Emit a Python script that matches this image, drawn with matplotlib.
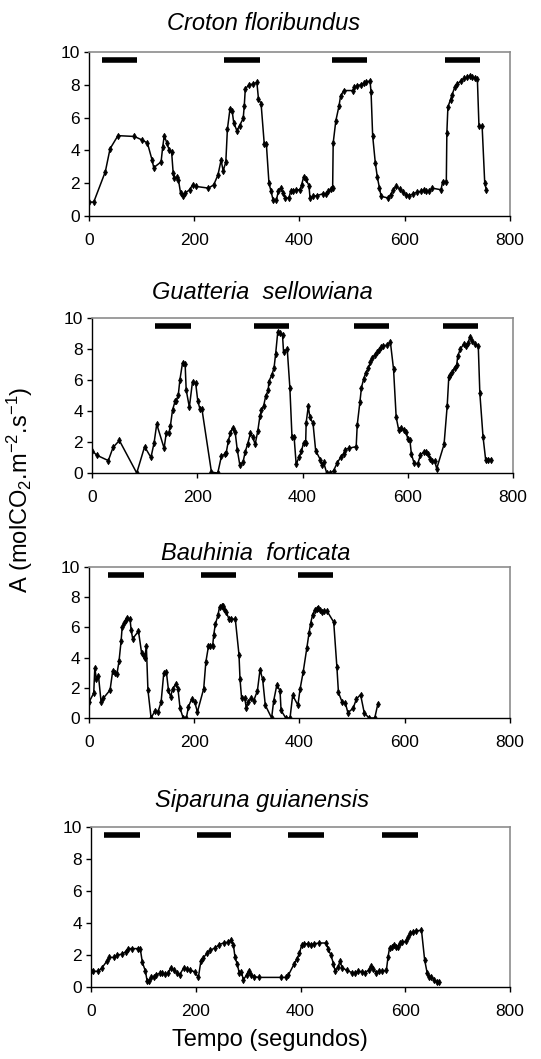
import matplotlib
matplotlib.use("Agg")
import matplotlib.pyplot as plt

plt.rcParams['font.family'] = ['Liberation Sans', 'DejaVu Sans']
plt.rcParams['mathtext.fontset'] = 'custom'
plt.rcParams['mathtext.rm'] = 'Liberation Sans'
plt.rcParams['mathtext.it'] = 'Liberation Sans:italic'
plt.rcParams['mathtext.default'] = 'regular'

# species names (panel titles)
titles = ["Croton floribundus", "Guatteria  sellowiana",
          "Bauhinia  forticata", "Siparuna guianensis"]

# Croton floribundus
t1 = [0, 9, 31, 40, 55, 86, 100, 111, 120, 123, 137, 140, 143, 148, 152, 157, 160, 162, 167, 170,
      174, 178, 183, 191, 197, 204, 227, 237, 245, 251, 255, 260, 263, 268, 272, 275, 281, 286, 293, 295,
      297, 304, 312, 319, 322, 327, 333, 337, 342, 346, 350, 356, 360, 364, 369, 373, 380, 383, 387, 394,
      401, 404, 408, 412, 418, 420, 426, 434, 444, 451, 455, 459, 463, 464, 469, 475, 478, 484, 501, 504,
      510, 516, 522, 527, 534, 536, 539, 544, 548, 552, 555, 568, 573, 578, 583, 591, 597, 602, 609, 616,
      623, 630, 636, 641, 647, 652, 669, 672, 679, 680, 682, 687, 690, 695, 700, 707, 713, 719, 724, 727,
      733, 738, 741, 747, 752, 755]
a1 = [0.85, 0.85, 2.7, 4.1, 4.9, 4.85, 4.65, 4.45, 3.4, 2.95, 3.3, 4.2, 4.9, 4.45, 4.05, 3.9, 2.6, 2.3, 2.35, 2.2,
      1.4, 1.2, 1.4, 1.6, 1.9, 1.8, 1.7, 1.9, 2.5, 3.4, 2.75, 3.3, 5.3, 6.55, 6.4, 5.7, 5.2, 5.5, 5.95, 6.7,
      7.75, 8.0, 8.05, 8.15, 7.15, 6.85, 4.4, 4.4, 2.0, 1.5, 0.95, 0.95, 1.55, 1.7, 1.4, 1.1, 1.1, 1.5, 1.55, 1.6,
      1.6, 1.9, 2.4, 2.25, 1.85, 1.1, 1.2, 1.25, 1.35, 1.35, 1.5, 1.65, 1.7, 4.45, 5.8, 6.7, 7.3, 7.65, 7.65, 7.85,
      7.95, 8.0, 8.1, 8.15, 8.25, 7.55, 4.9, 3.25, 2.35, 1.7, 1.2, 1.1, 1.3, 1.6, 1.8, 1.65, 1.45, 1.3, 1.25, 1.35,
      1.45, 1.5, 1.6, 1.5, 1.5, 1.7, 1.6, 2.1, 2.1, 5.05, 6.65, 7.1, 7.4, 7.85, 8.05, 8.25, 8.4, 8.45, 8.55, 8.5,
      8.4, 8.35, 5.5, 5.5, 2.0, 1.6]

# Guatteria sellowiana
t2 = [0, 9, 31, 40, 52, 85, 100, 112, 118, 123, 137, 141, 146, 149, 153, 158, 160, 164, 167, 172,
      177, 179, 185, 191, 197, 201, 205, 209, 227, 239, 246, 252, 255, 259, 263, 267, 272, 276, 281, 287,
      291, 296, 301, 305, 310, 315, 319, 322, 326, 330, 335, 336, 342, 346, 349, 353, 357, 362, 364, 371,
      376, 380, 384, 388, 393, 398, 402, 406, 407, 411, 414, 420, 425, 434, 437, 440, 446, 453, 459, 466,
      473, 478, 481, 488, 502, 504, 509, 512, 516, 520, 525, 529, 532, 537, 542, 546, 550, 553, 561, 567,
      573, 578, 583, 587, 593, 597, 600, 604, 607, 612, 619, 624, 630, 635, 639, 643, 647, 651, 655, 669,
      675, 678, 681, 685, 689, 693, 695, 700, 706, 711, 715, 718, 723, 727, 734, 737, 743, 748, 753, 759]
a2 = [1.45, 1.15, 0.8, 1.65, 2.1, 0.0, 1.7, 1.0, 1.95, 3.15, 1.6, 2.55, 2.55, 3.05, 4.05, 4.65, 4.65, 5.05, 6.0, 7.1,
      7.0, 5.35, 4.25, 5.9, 5.8, 4.65, 4.15, 4.1, 0.05, 0.0, 1.1, 1.2, 1.3, 2.05, 2.6, 2.9, 2.65, 1.5, 0.5, 0.7,
      1.35, 1.9, 2.55, 2.35, 1.85, 2.7, 3.65, 4.05, 4.3, 4.95, 5.35, 5.9, 6.35, 6.8, 7.7, 9.1, 9.05, 8.9, 7.8, 8.0,
      5.5, 2.35, 2.35, 0.55, 1.0, 1.4, 1.95, 1.95, 3.25, 4.3, 3.6, 3.2, 1.45, 0.85, 0.5, 0.7, 0.0, 0.0, 0.15, 0.65,
      1.05, 1.25, 1.5, 1.6, 1.7, 3.1, 4.55, 5.5, 6.05, 6.45, 6.75, 7.15, 7.4, 7.6, 7.8, 7.95, 8.15, 8.2, 8.25, 8.45,
      6.7, 3.6, 2.75, 2.9, 2.8, 2.65, 2.2, 2.15, 1.2, 0.65, 0.6, 1.15, 1.35, 1.35, 1.25, 0.9, 0.75, 0.8, 0.28, 1.85,
      4.35, 6.2, 6.3, 6.5, 6.8, 6.95, 7.55, 8.0, 8.3, 8.2, 8.4, 8.8, 8.5, 8.35, 8.2, 5.15, 2.35, 0.87, 0.87, 0.87]

# Bauhinia forticata
t3 = [0, 9, 11, 14, 18, 23, 27, 40, 45, 50, 53, 57, 61, 63, 67, 70, 73, 78, 80, 83,
      94, 100, 104, 106, 109, 112, 118, 125, 131, 137, 142, 147, 151, 155, 159, 165, 169, 173, 179, 185,
      189, 195, 201, 206, 218, 222, 227, 230, 235, 237, 240, 245, 248, 252, 254, 257, 261, 266, 270, 278,
      285, 287, 290, 296, 299, 302, 308, 313, 320, 325, 330, 335, 347, 351, 357, 363, 365, 374, 382, 387,
      397, 401, 407, 414, 418, 421, 425, 429, 433, 436, 439, 443, 447, 452, 465, 471, 474, 481, 487, 492,
      502, 508, 516, 523, 532, 543, 549]
a3 = [1.05, 1.65, 3.3, 2.6, 2.8, 1.05, 1.3, 1.85, 3.1, 3.0, 2.9, 3.75, 5.1, 6.0, 6.3, 6.5, 6.65, 6.55, 5.85, 5.25,
      5.75, 4.3, 4.1, 4.0, 4.75, 1.85, 0.0, 0.45, 0.4, 1.05, 2.95, 3.05, 1.85, 1.4, 1.95, 2.25, 1.95, 0.65, 0.0, 0.0,
      0.75, 1.25, 1.05, 0.4, 1.95, 3.7, 4.75, 4.8, 4.8, 5.5, 6.2, 6.8, 7.35, 7.45, 7.4, 7.2, 7.0, 6.55, 6.55, 6.55,
      4.2, 2.55, 1.3, 1.3, 0.65, 1.05, 1.3, 1.15, 1.8, 3.2, 2.55, 0.85, 0.0, 1.15, 2.2, 1.8, 0.5, 0.0, 0.0, 1.5,
      0.85, 1.9, 3.05, 4.65, 5.6, 6.25, 6.85, 7.15, 7.25, 7.3, 7.15, 7.0, 7.1, 7.1, 6.35, 3.4, 1.7, 1.05, 1.0, 0.35,
      0.65, 1.25, 1.55, 0.35, 0.0, 0.0, 0.95]

# Siparuna guianensis
t4 = [0, 4, 14, 21, 31, 35, 44, 50, 59, 66, 71, 79, 89, 94, 98, 104, 107, 111, 115, 120,
      124, 131, 136, 142, 147, 152, 158, 164, 169, 177, 183, 189, 198, 205, 210, 214, 221, 228, 237, 245,
      253, 261, 268, 272, 275, 279, 283, 287, 291, 297, 301, 306, 312, 320, 362, 372, 377, 388, 393, 398,
      402, 407, 414, 420, 426, 436, 449, 453, 458, 463, 466, 472, 475, 480, 488, 498, 504, 510, 517, 523,
      530, 535, 539, 544, 549, 555, 564, 567, 570, 575, 578, 582, 586, 590, 594, 601, 606, 610, 615, 620,
      631, 637, 642, 645, 650, 655, 660, 664]
a4 = [0.98, 0.98, 0.98, 1.2, 1.65, 1.85, 1.85, 2.0, 2.05, 2.2, 2.4, 2.4, 2.4, 2.4, 1.55, 0.98, 0.4, 0.4, 0.6, 0.65,
      0.75, 0.85, 0.85, 0.8, 0.85, 1.2, 1.05, 0.9, 0.75, 1.2, 1.1, 1.05, 0.95, 0.6, 1.65, 1.8, 2.1, 2.3, 2.45, 2.65,
      2.75, 2.8, 2.95, 2.6, 1.85, 1.45, 0.9, 0.95, 0.45, 0.75, 1.0, 0.75, 0.65, 0.6, 0.6, 0.6, 0.75, 1.45, 1.75, 2.1,
      2.6, 2.7, 2.7, 2.65, 2.7, 2.75, 2.75, 2.35, 2.0, 1.45, 1.0, 1.25, 1.6, 1.2, 1.05, 0.9, 0.85, 1.0, 0.95, 0.9,
      1.05, 1.3, 1.15, 0.9, 1.0, 0.98, 1.05, 1.85, 2.45, 2.5, 2.65, 2.5, 2.5, 2.75, 2.8, 2.85, 3.15, 3.35, 3.45, 3.5,
      3.55, 1.7, 0.85, 0.65, 0.65, 0.45, 0.3, 0.3]

# light periods (start, end) in seconds, drawn as black bars near the top
bars1 = [(25, 92), (257, 325), (461, 528), (676, 743)]
bars2 = [(120, 188), (307, 375), (497, 564), (667, 734)]
bars3 = [(37, 105), (213, 280), (397, 464)]
bars4 = [(24, 93), (202, 268), (376, 444), (555, 624)]
bar_level = 9.5

xticks = [0, 200, 400, 600, 800]
yticks = [0, 2, 4, 6, 8, 10]

W, H = 541, 1059
fig = plt.figure(figsize=(W / 100, H / 100), dpi=100)

# axes boxes in pixels: left, right, top, bottom
boxes = [(89, 510, 52, 216), (92, 513, 318, 473), (89, 510, 567, 718), (91, 510, 827, 987)]
title_pos = [(264, 23), (262, 292), (256, 553), (262, 800)]

series = [(t1, a1, bars1), (t2, a2, bars2), (t3, a3, bars3), (t4, a4, bars4)]

for i, (t, a, bars) in enumerate(series):
    l, r, tp, bt = boxes[i]
    ax = fig.add_axes([l / W, 1 - bt / H, (r - l) / W, (bt - tp) / H])
    ax.plot(t, a, color='black', lw=1.1, marker='d', ms=3.2, mew=0.6)
    for s, e in bars:
        ax.plot([s, e], [bar_level, bar_level], color='black', lw=4, solid_capstyle='butt')
    ax.set_xlim(0, 800)
    ax.set_ylim(0, 10)
    ax.set_xticks(xticks)
    ax.set_yticks(yticks)
    ax.tick_params(axis='both', direction='out', length=3.5, width=1, labelsize=12.5, color='black')
    ax.tick_params(axis='x', pad=9)
    ax.tick_params(axis='y', pad=3)
    for side in ['top', 'right']:
        ax.spines[side].set_color('#8c8c8c')
        ax.spines[side].set_linewidth(1.2)
    for side in ['left', 'bottom']:
        ax.spines[side].set_color('black')
        ax.spines[side].set_linewidth(1)
    x, y = title_pos[i]
    fig.text(x / W, 1 - y / H, titles[i], ha='center', va='center',
             fontsize=17, style='italic')

fig.text(20 / W, 1 - 490 / H, r'A (molCO$_2$.m$^{-2}$.s$^{-1}$)', rotation=90,
         ha='center', va='center', fontsize=17)
fig.text(270 / W, 1 - 1040 / H, 'Tempo (segundos)', ha='center', va='center', fontsize=17)

fig.savefig('out.png', dpi=100)
